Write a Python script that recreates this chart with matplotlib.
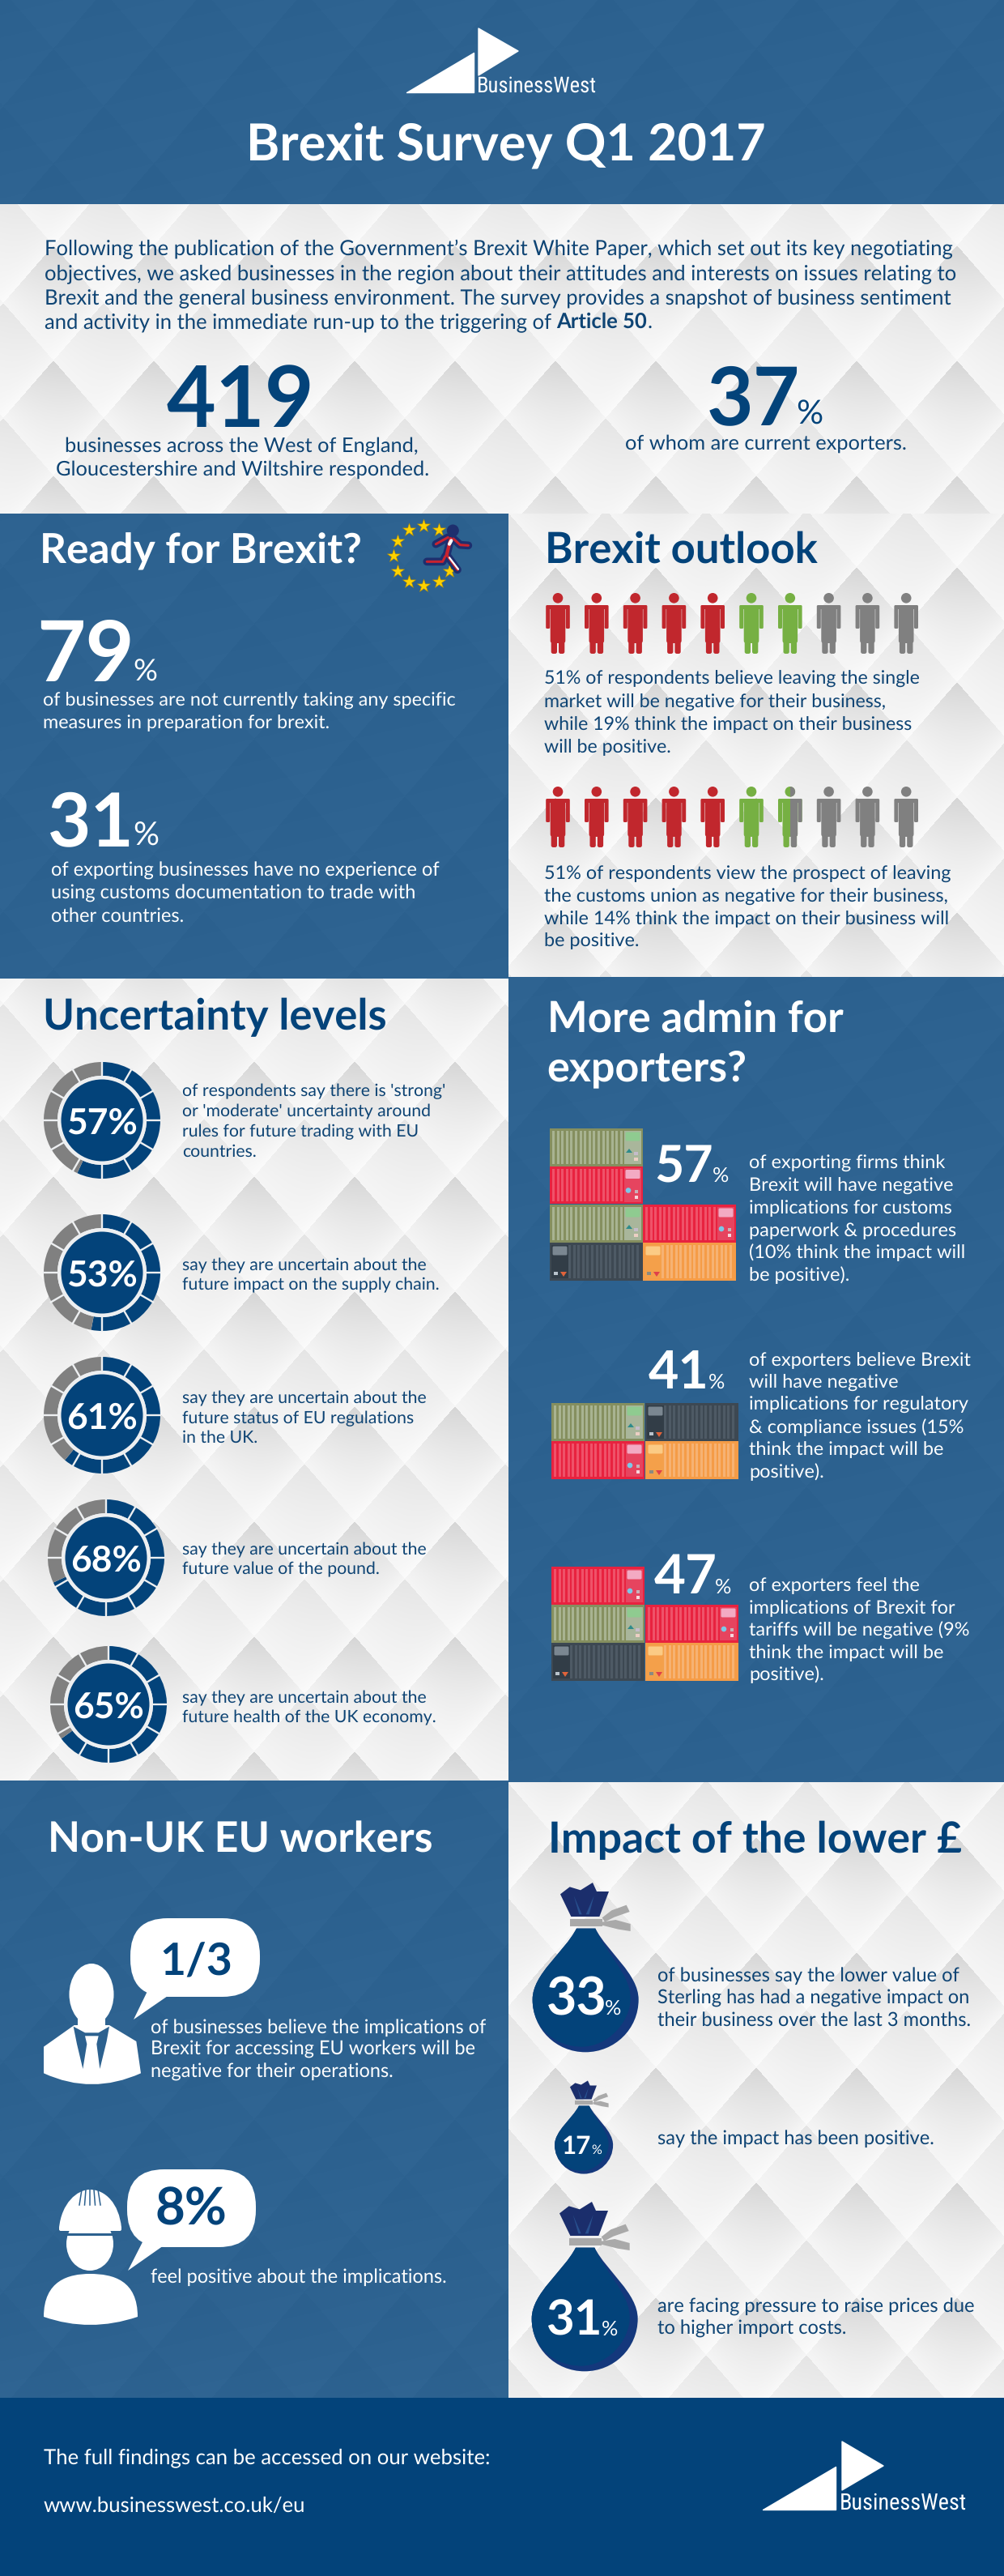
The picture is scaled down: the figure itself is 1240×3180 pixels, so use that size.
import numpy as np
import matplotlib
matplotlib.use("Agg")
import matplotlib.pyplot as plt
from matplotlib import font_manager
from matplotlib.patches import Polygon, Ellipse, Circle, Rectangle, FancyBboxPatch, PathPatch
from matplotlib.path import Path

plt.rcParams["text.hinting"] = "no_hinting"

# ---------- data ----------
title = "Brexit Survey Q1 2017"
intro_lines = ["Following the publication of the Government\u2019s Brexit White Paper, which set out its key negotiating",
               "objectives, we asked businesses in the region about their attitudes and interests on issues relating to",
               "Brexit and the general business environment. The survey provides a snapshot of business sentiment",
               "and activity in the immediate run-up to the triggering of "]
respondents = "419"
exporters_pct = "37"
ready_pcts = ["79", "31"]
outlook_negative = [5, 5]      # red figures out of ten
outlook_positive = [2, 1.5]    # green figures out of ten
donut_pcts = [57, 53, 61, 68, 65]
donut_texts = [["of respondents say there is 'strong'", "or 'moderate' uncertainty around", "rules for future trading with EU", "countries."],
               ["say they are uncertain about the", "future impact on the supply chain."],
               ["say they are uncertain about the", "future status of EU regulations", "in the UK."],
               ["say they are uncertain about the", "future value of the pound."],
               ["say they are uncertain about the", "future health of the UK economy."]]
admin_pcts = ["57", "41", "47"]
admin_texts = [["of exporting firms think", "Brexit will have negative", "implications for customs", "paperwork & procedures", "(10% think the impact will", "be positive)."],
               ["of exporters believe Brexit", "will have negative", "implications for regulatory", "& compliance issues (15%", "think the impact will be", "positive)."],
               ["of exporters feel the", "implications of Brexit for", "tariffs will be negative (9%", "think the impact will be", "positive)."]]
admin_stacks = [[["green", None], ["red", None], ["green", "red"], ["dark", "orange"]],
                [["green", "dark"], ["red", "orange"]],
                [["red", None], ["green", "red"], ["dark", "orange"]]]
bag_pcts = ["33", "17", "31"]
bag_scales = [1.0, 0.55, 1.0]

# ---------- canvas ----------
W, H = 1240, 3180
fig = plt.figure(figsize=(W / 100, H / 100), dpi=100)
ax = fig.add_axes([0, 0, 1, 1])
ax.axis("off")
renderer = fig.canvas.get_renderer()

BLUE = "#2C618F"
DARK = "#03437A"
NAVY = "#0E4474"
FAM = "Lato"
names = set(font_manager.get_font_names())
NARROW = next((n for n in ["Liberation Sans Narrow", "Roboto Condensed", "Open Sans Condensed", "Noto Sans Condensed", "DejaVu Sans"] if n in names), "DejaVu Sans")


def bg(x0, y0, x1, y1, light, py=0.0):
    xs = np.arange(x0, x1) + 0.5
    ys = np.arange(y0, y1) + 0.5
    X, Y = np.meshgrid(xs, ys)
    p, q = 124.0, 142.0
    a = (X - 810) / p + (Y - py) / q
    b = -(X - 810) / p + (Y - py) / q
    i, j = np.floor(a), np.floor(b)
    u, v = a - i, b - j
    even = ((i + j) % 2 == 0)
    if light:
        amp = np.where(even, 0.105, 0.045)
        g = 0.962 - amp * (1 - u) * (1 - v) + 0.025 * u ** 6 - 0.02 * (1 - v)
        g = np.clip(g, 0, 1)
        rgb = np.dstack([g, g, g])
    else:
        t = 0.6 * u + 0.4 * v
        base = np.array([0x2B, 0x60, 0x8E]) / 255
        top = np.array([0x30, 0x65, 0x93]) / 255
        rgb = base[None, None, :] + t[:, :, None] * (top - base)[None, None, :]
    ax.imshow(rgb, extent=(x0, x1, y1, y0), aspect="auto", interpolation="nearest", zorder=0)


bg(0, 0, W, 252, False, 60)
bg(0, 252, W, 634, True, 445)
bg(0, 634, 628, 1208, False, 60)
bg(628, 634, W, 1206, True, 700)
bg(0, 1208, 628, 2198, True, 1310)
bg(628, 1206, W, 2200, False, 60)
bg(0, 2198, 628, 2960, False, 60)
bg(628, 2200, W, 2960, True, 2694)
ax.add_patch(Rectangle((0, 2960), W, 220, fc=DARK, ec="none", zorder=1))
ax.set_xlim(0, W)
ax.set_ylim(H, 0)


def measure(s, bold=False, family=FAM):
    # rendered width in pixels of s at a font size of 50
    t = ax.text(0, 0, s, fontsize=50, family=family, weight="bold" if bold else "normal")
    w = t.get_window_extent(renderer).width
    t.remove()
    return w


def fit(s, width, bold=False, family=FAM):
    return 50.0 * width / measure(s, bold, family)


def T(x, y, s, size, color="white", bold=False, ha="left", family=FAM):
    ax.text(x, y, s, fontsize=size, color=color, ha=ha, va="baseline",
            family=family, weight="bold" if bold else "normal", zorder=6)


def F(x0, x1, y, s, color="white", bold=False, family=FAM):
    size = fit(s, x1 - x0, bold, family)
    if s.isdigit() or s == "%":
        # the measured box holds side bearings that the drawn figures do not fill
        size *= 1.07
        x0 -= 0.035 * (x1 - x0)
    T(x0, y, s, size, color, bold, family=family)


def block(x, ys, lines, ref, width, color):
    size = fit(lines[ref], width)
    for yy, s in zip(ys, lines):
        T(x, yy, s, size, color)
    return size


def logo(xr, yr, xl, yl, tx0, tx1, ty):
    ax.add_patch(Polygon(list(zip(xr, yr)), fc="white", ec="white", lw=1, joinstyle="round", zorder=5))
    ax.add_patch(Polygon(list(zip(xl, yl)), fc="white", ec="white", lw=1, joinstyle="round", zorder=5))
    F(tx0, tx1, ty, "BusinessWest", family=NARROW)


# ---------- header ----------
logo([591, 640, 591], [35, 63, 93], [585, 585, 502], [65, 114, 114], 589, 737, 114)
F(304, 946, 198, title, bold=True)

# ---------- intro ----------
isize = block(55, [315, 345, 375, 405], intro_lines, 1, 1125, NAVY)
to_px = isize / 50.0
x_bold = 55 + (measure(intro_lines[3] + "x") - measure("x")) * to_px
T(x_bold, 405, "Article 50", isize, NAVY, bold=True)
T(x_bold + measure("Article 50", True) * to_px + 1, 405, ".", isize, NAVY)
F(212, 383, 527, respondents, DARK, bold=True)
csize = fit("Gloucestershire and Wiltshire responded.", 461)
T(298, 557, "businesses across the West of England,", csize, NAVY, ha="center")
T(300, 587, "Gloucestershire and Wiltshire responded.", csize, NAVY, ha="center")
F(876, 984, 524, exporters_pct, DARK, bold=True)
F(984, 1015, 524, "%", DARK)
T(946, 555, "of whom are current exporters.", csize, NAVY, ha="center")

# ---------- ready for brexit ----------
F(49, 447, 695, "Ready for Brexit?", bold=True)
star_a = np.deg2rad([-90, -60, -120, -150, 180, 150, 120, 90, 60, 30])
ax.scatter(523 + 37 * np.cos(star_a) - 0, 686 + 37 * np.sin(star_a), marker="*", s=150, c="#FFD200",
           edgecolors="#B58B00", linewidths=0.4, zorder=5)


def seg(pts, c, lw):
    z = np.array(pts, float)
    ax.plot(440 + z[:, 0] / 3, 630 + z[:, 1] / 3, color=c, lw=lw, solid_capstyle="round", solid_joinstyle="round", zorder=6)


ax.add_patch(Circle((440 + 358 / 3, 630 + 75 / 3), 7.5, fc="#1E2F6E", ec="none", zorder=6))
for c, lw, rd in (("#1E2F6E", 7, 0), ("#C8232F", 2.2, 1)):
    seg([(350, 105), (335, 165)], c, lw * (1.4 if rd else 1))
    seg([(340, 100), (295, 125)], c, lw)
    seg([(360, 105), (385, 128), (415, 130)], c, lw)
    seg([(335, 165), (375, 220)], c, lw)
    seg([(330, 170), (320, 190), (262, 190)], c, lw)
seg([(352, 112), (345, 125)], "white", 3)
seg([(345, 175), (378, 218)], "white", 1.6)

F(49, 162, 841, ready_pcts[0], bold=True)
F(165, 193, 841, "%")
block(53, [872, 899], ["of businesses are not currently taking any specific", "measures in preparation for brexit."], 0, 511, "white")
F(62, 162, 1044, ready_pcts[1], bold=True)
F(165, 195, 1044, "%")
block(63, [1082, 1110, 1138], ["of exporting businesses have no experience of", "using customs documentation to trade with", "other countries."], 0, 479, "white")

# ---------- brexit outlook ----------
F(673, 1010, 695, "Brexit outlook", DARK, bold=True)


def figure_patches(cx, top):
    y = top
    return [Circle((cx, y + 6.3), 6.3),
            FancyBboxPatch((cx - 9.3, y + 16), 18.6, 46, boxstyle="round,pad=0,rounding_size=3"),
            FancyBboxPatch((cx - 14.8, y + 15), 5, 29, boxstyle="round,pad=0,rounding_size=1.5"),
            FancyBboxPatch((cx + 9.8, y + 15), 5, 29, boxstyle="round,pad=0,rounding_size=1.5"),
            Rectangle((cx - 12, y + 15), 24, 5),
            FancyBboxPatch((cx - 8.3, y + 50), 7.3, 25, boxstyle="round,pad=0,rounding_size=2.5"),
            FancyBboxPatch((cx + 1, y + 50), 7.3, 25, boxstyle="round,pad=0,rounding_size=2.5")]


def person(cx, top, color, frac=None, other=None):
    for p in figure_patches(cx, top):
        p.set(fc=color, ec="none", zorder=5)
        ax.add_patch(p)
    if frac is not None:
        clip = Rectangle((cx - 16 + 32 * frac, top - 1), 32, 78, transform=ax.transData)
        for p in figure_patches(cx, top):
            p.set(fc=other, ec="none", zorder=5.5)
            ax.add_patch(p)
            p.set_clip_path(clip)


xs_people = 689 + 47.8 * np.arange(10)
for top, neg, pos in zip([732, 971], outlook_negative, outlook_positive):
    for i, cx in enumerate(xs_people):
        if i < neg:
            person(cx, top, "#C1272D")
        elif i < neg + np.floor(pos):
            person(cx, top, "#76B043")
        elif i < neg + pos:
            person(cx, top, "#76B043", pos - np.floor(pos), "#808080")
        else:
            person(cx, top, "#808080")
block(672, [845, 874, 901, 929], ["51% of respondents believe leaving the single", "market will be negative for their business,",
                                  "while 19% think the impact on their business", "will be positive."], 0, 465, NAVY)
block(672, [1086, 1114, 1141, 1168], ["51% of respondents view the prospect of leaving", "the customs union as negative for their business,",
                                      "while 14% think the impact on their business will", "be positive."], 1, 500, NAVY)

# ---------- uncertainty ----------
F(53, 478, 1271, "Uncertainty levels", DARK, bold=True)
donut_x = [126, 126, 126, 131, 134]
donut_y = [1383, 1571, 1747, 1923, 2104]
R = 73
dsize = fit("57%", 88, True)
for cx, cy, pct in zip(donut_x, donut_y, donut_pcts):
    a = fig.add_axes([(cx - R) / W, 1 - (cy + R) / H, 2 * R / W, 2 * R / H])
    a.pie([pct, 100 - pct], colors=[DARK, "#808080"], startangle=90, counterclock=False, radius=72 / R,
          wedgeprops=dict(width=17 / R, linewidth=0))
    for k in range(12):
        th = np.deg2rad(30 * k)
        a.plot([0.72 * np.sin(th), np.sin(th)], [0.72 * np.cos(th), np.cos(th)], color="#EDEFF1", lw=1.7)
    a.add_patch(Circle((0, 0), 55 / R, fc="#EDEFF1", ec="none", zorder=4))
    a.add_patch(Circle((0, 0), 50.5 / R, fc=DARK, ec="none", zorder=5))
    a.text(0, 0, f"{pct}%", fontsize=dsize, color="white", family=FAM, weight="bold", ha="center", va="center_baseline", zorder=6)
    a.set_xlim(-1, 1)
    a.set_ylim(-1, 1)
    a.set_aspect("auto")
    a.axis("off")

d_size = fit("say they are uncertain about the", 302)
for lines, ys in zip(donut_texts, [[1353, 1378, 1403, 1428], [1568, 1592], [1732, 1757, 1781], [1919, 1943], [2102, 2126]]):
    for yy, s in zip(ys, lines):
        T(225, yy, s, d_size, NAVY)

# ---------- admin ----------
F(676, 1042, 1274, "More admin for", bold=True)
F(675, 922, 1334, "exporters?", bold=True)

CONT = {"green": ("#858F5F", "#A8B391", "#A9B69B", "#8FCB90", "#2E8B8B", True),
        "red": ("#E8223F", "#EF5269", "#E6445F", "#F3AAC3", "#7CC8E8", True),
        "dark": ("#3D4852", "#4E5A65", "#323D47", "#7B8791", "#E0633A", False),
        "orange": ("#F59C47", "#F6B273", "#F4A04A", "#FBCB85", "#E0404A", False)}


def container(x, y, kind, w=115, h=46.5):
    frame, stripe, door, panel, mark, door_right = CONT[kind]
    ax.add_patch(Rectangle((x, y), w, h, fc=frame, ec="none", zorder=4))
    dw = 21
    sx0 = x + 3 if door_right else x + dw + 2
    sx1 = x + w - dw - 2 if door_right else x + w - 3
    for sx in np.arange(sx0, sx1 - 3, 5.6):
        ax.add_patch(Rectangle((sx, y + 3), 3.0, h - 6, fc=stripe, ec="none", zorder=4.2))
    dx = x + w - dw - 2 if door_right else x + 2
    ax.add_patch(Rectangle((dx, y + 2.5), dw, h - 5, fc=door, ec="none", zorder=4.3))
    ax.add_patch(FancyBboxPatch((dx + 1.5, y + 4.5), dw - 3, 11, boxstyle="round,pad=0,rounding_size=1.5", fc=panel, ec="none", zorder=4.4))
    if kind == "red":
        ax.add_patch(Circle((dx + 5, y + 30), 3.3, fc=mark, ec="none", zorder=4.4))
        ax.add_patch(Rectangle((dx + 13, y + 29), 4, 4, fc="#C9B0B8", ec="none", zorder=4.4))
        ax.add_patch(Rectangle((dx + 13, y + 36), 4, 4, fc="#F6D5DC", ec="none", zorder=4.4))
    elif kind == "green":
        ax.add_patch(Polygon([(dx + 2, y + 30), (dx + 10, y + 30), (dx + 6, y + 25)], fc=mark, ec="none", zorder=4.4))
        ax.add_patch(Rectangle((dx + 12, y + 29), 5, 4, fc="#C5BCCB", ec="none", zorder=4.4))
        ax.add_patch(Rectangle((dx + 12, y + 36), 5, 4, fc="#ECCFC4", ec="none", zorder=4.4))
    else:
        ax.add_patch(Polygon([(dx + 11, y + 36), (dx + 19, y + 36), (dx + 15, y + 42)], fc=mark, ec="none", zorder=4.4))
        ax.add_patch(Rectangle((dx + 3, y + 36), 5, 4, fc="#B9C3CC" if kind == "dark" else "#8C8A80", ec="none", zorder=4.4))


stack_x = [(679, 794), (681, 797), (681, 797)]
stack_y = [[1393, 1439.5, 1487, 1534], [1732, 1779], [1934, 1981, 2028]]
for (xa, xb), ys, rows in zip(stack_x, stack_y, admin_stacks):
    for yy, (l, r) in zip(ys, rows):
        if l:
            container(xa, yy, l)
        if r:
            container(xb, yy, r)

F(811, 879, 1459, admin_pcts[0], bold=True)
F(881, 900, 1459, "%")
F(803, 873, 1714, admin_pcts[1], bold=True)
F(876, 895, 1714, "%")
F(810, 883, 1967, admin_pcts[2], bold=True)
F(884, 903, 1967, "%")
a_size = fit("implications for regulatory", 271)
for lines, ys in zip(admin_texts, [[1443, 1471, 1498, 1526, 1553, 1581], [1686, 1714, 1741, 1769, 1796, 1824], [1964, 1992, 2020, 2047, 2074]]):
    for yy, s in zip(ys, lines):
        T(925, yy, s, a_size, "white")

# ---------- workers ----------
F(59, 535, 2287, "Non-UK EU workers", bold=True)
F(677, 1188, 2287, "Impact of the lower \u00a3", DARK, bold=True)


def bubble(x0, y0, x1, y1, tail):
    r = (y1 - y0) / 2
    ax.add_patch(FancyBboxPatch((x0, y0), x1 - x0, y1 - y0, boxstyle=f"round,pad=0,rounding_size={r * 0.95}", fc="white", ec="none", zorder=4))
    ax.add_patch(Polygon(tail, fc="white", ec="none", zorder=4))


bubble(161, 2368, 321, 2465, [(186, 2450), (165, 2493), (210, 2462)])
F(197, 287, 2438, "1/3", DARK, bold=True)
bubble(157, 2678, 316, 2774, [(180, 2760), (158, 2803), (205, 2770)])
F(192, 281, 2746, "8%", DARK, bold=True)


def zp(pts):
    return [(60 + a / 3, 2350 + b / 3) for a, b in pts]


ax.add_patch(Ellipse((113, 2462), 55, 76, fc="white", ec="none", zorder=4))
ax.add_patch(Rectangle((96, 2480), 34, 36, fc="white", ec="none", zorder=4))
body = Path([*zp([(-18, 530), (95, 450), (225, 450), (325, 510), (342, 628), (160, 710), (-18, 628), (-18, 530)])],
            [Path.MOVETO, Path.LINETO, Path.LINETO, Path.LINETO, Path.LINETO, Path.CURVE3, Path.CURVE3, Path.CLOSEPOLY])
ax.add_patch(PathPatch(body, fc="white", ec="none", zorder=4))
ax.add_patch(Polygon(zp([(92, 455), (135, 478), (185, 478), (225, 455), (215, 510), (190, 612), (178, 520), (185, 490), (135, 490), (142, 520), (127, 612), (105, 520)]),
                     fc=BLUE, ec="none", zorder=4.5))

helmet = Path([(73, 2750), (76, 2720), (95, 2703), (111, 2703), (130, 2703), (147, 2720), (150, 2750), (73, 2750)],
              [Path.MOVETO, Path.CURVE4, Path.CURVE4, Path.CURVE4, Path.CURVE4, Path.CURVE4, Path.CURVE4, Path.CLOSEPOLY])
ax.add_patch(PathPatch(helmet, fc="white", ec="none", zorder=4))
ax.add_patch(FancyBboxPatch((73, 2748), 77, 6, boxstyle="round,pad=0,rounding_size=2", fc="white", ec="none", zorder=4))
for dx in (-10, -5, 0, 5, 10):
    ax.plot([111 + dx, 111 + dx * 1.3], [2703, 2722], color=BLUE, lw=1.1, zorder=4.5)
ax.add_patch(Ellipse((111, 2770), 58, 66, fc="white", ec="none", zorder=4))
ax.add_patch(Rectangle((78, 2757), 66, 3, fc=BLUE, ec="none", zorder=4.5))
wb = Path([(54, 2860), (54, 2815), (85, 2807), (111, 2807), (140, 2807), (170, 2815), (170, 2860), (111, 2880), (54, 2860), (54, 2860)],
          [Path.MOVETO, Path.CURVE4, Path.CURVE4, Path.CURVE4, Path.CURVE4, Path.CURVE4, Path.CURVE4, Path.CURVE3, Path.CURVE3, Path.CLOSEPOLY])
ax.add_patch(PathPatch(wb, fc="white", ec="none", zorder=4))
w_size = block(186, [2510, 2537, 2565], ["of businesses believe the implications of", "Brexit for accessing EU workers will be", "negative for their operations."], 0, 415, "white")
T(186, 2818, "feel positive about the implications.", w_size, "white")


# ---------- money bags ----------
def bag(cx, top, s):
    def z(pts):
        return [(cx + (a - 248) / 3 * s, top + (b - 45) / 3 * s) for a, b in pts]

    codes = [Path.MOVETO] + [Path.CURVE4] * 9 + [Path.CURVE4] * 3 + [Path.CLOSEPOLY]
    outer = z([(215, 212), (170, 300), (52, 380), (52, 475), (52, 585), (140, 670), (248, 670),
               (356, 670), (445, 585), (445, 475), (445, 380), (330, 300), (285, 212), (215, 212)])
    inner = z([(215, 212), (170, 300), (52, 380), (52, 475), (52, 585), (140, 650), (235, 650),
               (330, 650), (415, 560), (415, 470), (415, 380), (320, 300), (285, 212), (215, 212)])
    ax.add_patch(PathPatch(Path(outer, codes), fc="#14387C", ec="none", zorder=4))
    ax.add_patch(PathPatch(Path(inner, codes), fc=DARK, ec="none", zorder=4.1))
    ax.add_patch(Polygon(z([(155, 85), (190, 58), (230, 70), (275, 42), (290, 75), (335, 75), (300, 168), (195, 168)]), fc="#1B2E6C", ec="none", zorder=4))
    ax.add_patch(Polygon(z([(205, 90), (225, 160), (235, 160)]), fc="#28508F", ec="none", zorder=4.1))
    ax.add_patch(Polygon(z([(280, 90), (250, 160), (262, 160)]), fc="#28508F", ec="none", zorder=4.1))
    ax.add_patch(Polygon(z([(310, 172), (345, 145), (400, 125), (412, 150), (355, 170), (320, 188)]), fc="#A9A9A9", ec="none", zorder=4))
    ax.add_patch(Polygon(z([(310, 188), (360, 180), (415, 195), (415, 222), (370, 215), (310, 200)]), fc="#A9A9A9", ec="none", zorder=4))
    ax.add_patch(Polygon(z([(190, 178), (310, 178), (310, 203), (190, 203)]), fc="#A9A9A9", ec="none", zorder=4.2))


for cx, top, s in zip([723, 721, 722], [2325, 2569, 2719], bag_scales):
    bag(cx, top, s)

F(677, 747, 2487, bag_pcts[0], bold=True)
F(748, 767, 2487, "%")
F(695, 729, 2659, bag_pcts[1], bold=True)
F(731, 743, 2659, "%")
F(676, 741, 2883, bag_pcts[2], bold=True)
F(744, 763, 2883, "%")
b_size = block(812, [2446, 2474, 2501], ["of businesses say the lower value of", "Sterling has had a negative impact on", "their business over the last 3 months."], 1, 386, NAVY)
T(812, 2647, "say the impact has been positive.", b_size, NAVY)
T(812, 2855, "are facing pressure to raise prices due", b_size, NAVY)
T(812, 2882, "to higher import costs.", b_size, NAVY)

# ---------- footer ----------
f_size = fit("The full findings can be accessed on our website:", 552)
T(54, 3041, "The full findings can be accessed on our website:", f_size)
T(54, 3101, "www.businesswest.co.uk/eu", f_size)
logo([1040, 1091, 1040], [3014, 3044, 3074], [1032, 1032, 942], [3045, 3098, 3098], 1037, 1194, 3098)

fig.savefig("out.png", dpi=100)
